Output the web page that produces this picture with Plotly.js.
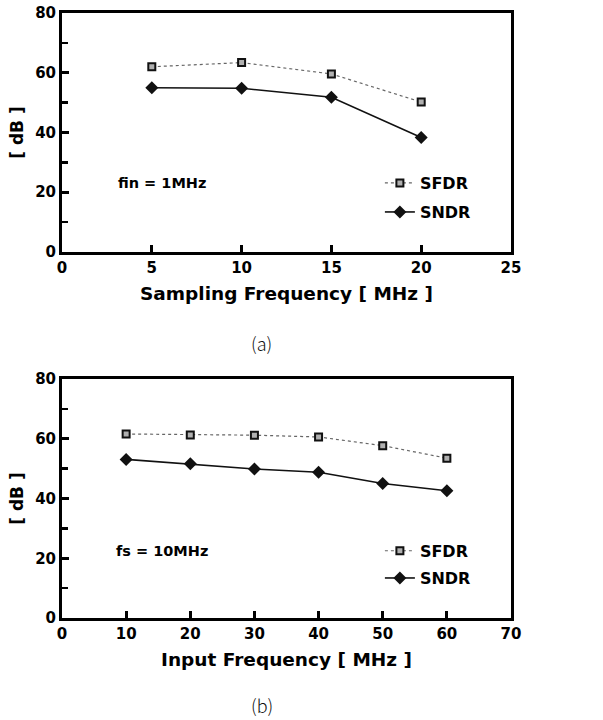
<!DOCTYPE html>
<html><head><meta charset="utf-8">
<script src="https://cdn.plot.ly/plotly-3.0.1.min.js"></script>
<style>html,body{margin:0;padding:0;background:#fff}#chart{width:603px;height:720px}</style>
</head><body><div id="chart"></div>
<script>
// (a) Sampling frequency sweep, fin = 1MHz
const fsA = [5, 10, 15, 20];
const sfdrA = [62.0, 63.4, 59.6, 50.2];
const sndrA = [55.0, 54.8, 51.8, 38.3];
// (b) Input frequency sweep, fs = 10MHz
const finB = [10, 20, 30, 40, 50, 60];
const sfdrB = [61.6, 61.3, 61.2, 60.6, 57.7, 53.5];
const sndrB = [53.1, 51.6, 49.9, 48.8, 45.0, 42.6];
const seriesNames = ['SFDR', 'SNDR'];
const xTitles = ['Sampling Frequency [ MHz ]', 'Input Frequency [ MHz ]'];
const yTitle = '[ dB ]';
const notes = ['fin = 1MHz', 'fs = 10MHz'];
const panelLabels = ['(a)', '(b)'];

const F = 'DejaVu Sans, Liberation Sans, sans-serif';
const sfdrStyle = {
  mode: 'lines+markers',
  line: {color: '#666', width: 1.2, dash: 'dot'},
  marker: {symbol: 'square', size: 7, color: '#b0b0b0', line: {color: '#111', width: 2}}
};
const sndrStyle = {
  mode: 'lines+markers',
  line: {color: '#111', width: 1.6},
  marker: {symbol: 'diamond', size: 10, color: '#111'}
};
const traces = [
  Object.assign({x: fsA, y: sfdrA, name: seriesNames[0], xaxis: 'x', yaxis: 'y', legend: 'legend'}, sfdrStyle),
  Object.assign({x: fsA, y: sndrA, name: seriesNames[1], xaxis: 'x', yaxis: 'y', legend: 'legend2'}, sndrStyle),
  Object.assign({x: finB, y: sfdrB, name: seriesNames[0], xaxis: 'x2', yaxis: 'y2', legend: 'legend3'}, sfdrStyle),
  Object.assign({x: finB, y: sndrB, name: seriesNames[1], xaxis: 'x2', yaxis: 'y2', legend: 'legend4'}, sndrStyle)
];

function xax(range, dtick, title, anchor, standoff) {
  return {
    range: range, dtick: dtick, tick0: 0, anchor: anchor,
    showgrid: false, zeroline: false, showline: true, mirror: true,
    linecolor: '#000', linewidth: 3, ticks: 'inside', ticklen: 7, tickwidth: 3, tickcolor: '#000',
    tickfont: {family: F, size: 15, color: '#000', weight: 'bold'},
    title: {text: title, standoff: standoff, font: {family: F, size: 18.5, color: '#000', weight: 'bold'}},
    automargin: false, fixedrange: true
  };
}
function yax(domain, anchor) {
  return {
    domain: domain, range: [0, 80], dtick: 20, tick0: 0, anchor: anchor,
    showgrid: false, zeroline: false, showline: true, mirror: true,
    linecolor: '#000', linewidth: 3, ticks: 'inside', ticklen: 7, tickwidth: 3, tickcolor: '#000',
    minor: {dtick: 10, ticks: 'inside', ticklen: 6, tickwidth: 2.5, tickcolor: '#000'},
    tickfont: {family: F, size: 15, color: '#000', weight: 'bold'},
    title: {text: yTitle, standoff: 8, font: {family: F, size: 17, color: '#000', weight: 'bold'}},
    automargin: false, fixedrange: true
  };
}
function leg(x, y) {
  return {x: x, y: y, xanchor: 'left', yanchor: 'middle', bgcolor: 'rgba(0,0,0,0)', borderwidth: 0,
    font: {family: F, size: 16, color: '#000', weight: 'bold'}, itemclick: false, itemdoubleclick: false};
}

const layout = {
  width: 603, height: 720,
  margin: {l: 62, r: 92, t: 13, b: 102},
  paper_bgcolor: '#fff', plot_bgcolor: '#fff',
  showlegend: true,
  xaxis: xax([0, 25], 5, xTitles[0], 'y', 12),
  yaxis: yax([0.605, 1], 'x'),
  xaxis2: xax([0, 70], 10, xTitles[1], 'y2', 12),
  yaxis2: yax([0, 0.395], 'x2'),
  legend: leg(0.708, 0.719),
  legend2: leg(0.708, 0.671),
  legend3: leg(0.708, 0.111),
  legend4: leg(0.708, 0.066),
  annotations: [
    {xref: 'x', yref: 'y', x: 3.0, y: 23, text: notes[0], showarrow: false, xanchor: 'left', yanchor: 'middle',
     font: {family: F, size: 14.5, color: '#000', weight: 'bold'}},
    {xref: 'x2', yref: 'y2', x: 8.1, y: 22.5, text: notes[1], showarrow: false, xanchor: 'left', yanchor: 'middle',
     font: {family: F, size: 14.5, color: '#000', weight: 'bold'}},
    {xref: 'paper', yref: 'paper', x: 0.445, y: 0.4545, text: panelLabels[0], showarrow: false, xanchor: 'center', yanchor: 'middle',
     font: {family: 'Noto Sans CJK KR, Noto Sans, sans-serif', size: 18, color: '#111', weight: 300}},
    {xref: 'paper', yref: 'paper', x: 0.445, y: -0.168, text: panelLabels[1], showarrow: false, xanchor: 'center', yanchor: 'bottom',
     font: {family: 'Noto Sans CJK KR, Noto Sans, sans-serif', size: 18, color: '#111', weight: 300}}
  ]
};
Plotly.newPlot('chart', traces, layout, {displayModeBar: false, staticPlot: true});
</script></body></html>
